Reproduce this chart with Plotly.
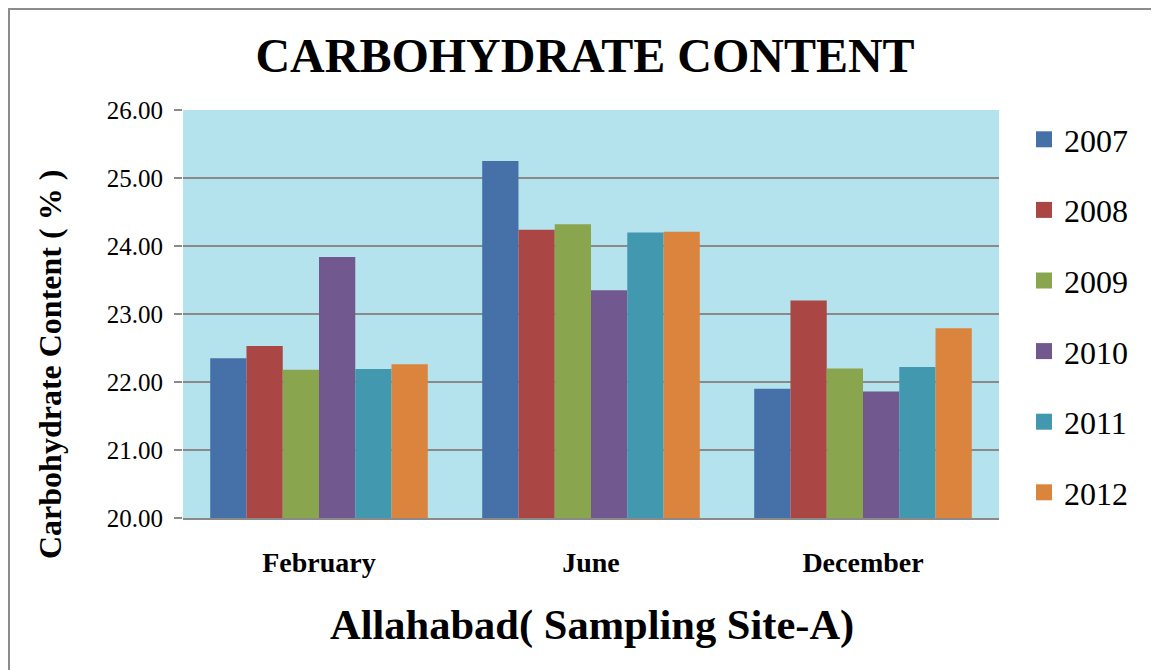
import plotly.graph_objects as go

months = ["February", "June", "December"]
years = ["2007", "2008", "2009", "2010", "2011", "2012"]
v2007 = [22.35, 25.25, 21.90]
v2008 = [22.53, 24.24, 23.20]
v2009 = [22.18, 24.32, 22.20]
v2010 = [23.84, 23.35, 21.86]
v2011 = [22.19, 24.20, 22.22]
v2012 = [22.26, 24.21, 22.79]
series = [v2007, v2008, v2009, v2010, v2011, v2012]
colors = ["#4571A8", "#AA4643", "#89A54E", "#71588F", "#4198AF", "#DB843D"]

FONT = "Liberation Serif, Times New Roman, serif"
W, H = 1159, 670
OFF = 8  # page body margin
# plot area in page coordinates: x 183..999, y 110..518
L, T = 183 - OFF, 110 - OFF
R, B = W - (999 - OFF), H - (518 - OFF)
pw, ph = W - L - R, H - T - B

def px(xpage):
    return (xpage - OFF - L) / pw

def py(ypage):
    return (H - B - (ypage - OFF)) / ph

fig = go.Figure()
for name, vals, c in zip(years, series, colors):
    fig.add_trace(go.Bar(x=months, y=vals, name=name, marker=dict(color=c, line=dict(width=0)),
                         showlegend=False))
for name, c in zip(years, colors):
    fig.add_trace(go.Scatter(x=[None], y=[None], mode="markers", name=name, legendgroup=name,
                             marker=dict(symbol="square", size=16, color=c)))

grid = "#8a8a8a"
fig.update_layout(
    width=W, height=H,
    margin=dict(l=L, r=R, t=T, b=B),
    paper_bgcolor="white",
    plot_bgcolor="#b5e3ed",
    barmode="group",
    bargap=0.2,
    bargroupgap=0,
    font=dict(family=FONT, color="black"),
    title=dict(text="<b>CARBOHYDRATE CONTENT</b>", x=(585 - OFF) / W, xanchor="center",
               y=1 - (55 - OFF) / H, yanchor="middle", font=dict(size=48, family=FONT)),
    xaxis=dict(showgrid=False, showline=True, linecolor=grid, linewidth=1.5,
               ticks="", tickfont=dict(size=28, family=FONT), ticklabelstandoff=19,
               tickprefix="<b>", ticksuffix="</b>"),
    yaxis=dict(range=[20, 26], dtick=1, tickformat=".2f", showgrid=True, gridcolor=grid,
               gridwidth=1.5, ticks="outside", ticklen=8, tickcolor=grid, tickwidth=1.5,
               zeroline=False, showline=False, tickfont=dict(size=25, family=FONT),
               ticklabelstandoff=6),
    legend=dict(x=px(1024), xanchor="left", y=py(112), yanchor="top",
                font=dict(size=32, family=FONT), tracegroupgap=26,
                bgcolor="rgba(0,0,0,0)", itemwidth=30, maxheight=620),
    annotations=[
        dict(text="<b>Allahabad( Sampling Site-A)</b>", xref="paper", yref="paper",
             x=px(592), y=py(625), xanchor="center", yanchor="middle", showarrow=False,
             font=dict(size=42.5, family=FONT)),
        dict(text="<b>Carbohydrate Content ( % )</b>", xref="paper", yref="paper",
             x=px(50), y=py(365), xanchor="center", yanchor="middle", showarrow=False,
             textangle=-90, font=dict(size=32, family=FONT)),
    ],
    shapes=[
        dict(type="line", xref="paper", yref="paper", x0=px(8), x1=px(W + OFF), y0=py(9), y1=py(9),
             line=dict(color="#8c8c8c", width=2)),
        dict(type="line", xref="paper", yref="paper", x0=px(9), x1=px(9), y0=py(8), y1=py(H + OFF),
             line=dict(color="#8c8c8c", width=2)),
    ],
)

fig.write_html("out.html")
